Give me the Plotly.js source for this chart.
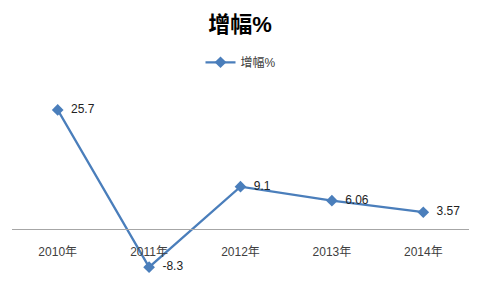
<!DOCTYPE html>
<html>
<head>
<meta charset="utf-8">
<script src="https://cdn.plot.ly/plotly-3.0.1.min.js"></script>
<style>html,body{margin:0;padding:0;background:#fff;}#chart{width:480px;height:289px;}</style>
</head>
<body>
<div id="chart"></div>
<script>
const categories = ["2010年", "2011年", "2012年", "2013年", "2014年"];
const values = [25.7, -8.3, 9.1, 6.06, 3.57];
const labels = ["25.7", "-8.3", "9.1", "6.06", "3.57"];
const seriesName = "增幅%";

const font = '"Liberation Sans", "Noto Sans CJK SC", sans-serif';

const trace = {
  x: categories,
  y: values,
  type: 'scatter',
  mode: 'lines+markers+text',
  name: seriesName,
  text: labels,
  texttemplate: '\u00a0\u00a0%{text}',
  textposition: 'middle right',
  textfont: {family: font, size: 12, color: '#222'},
  line: {color: '#4A7EBB', width: 2.25},
  marker: {symbol: 'diamond', size: 9, color: '#4A7EBB'},
  cliponaxis: false
};

const layout = {
  width: 480, height: 289,
  margin: {l: 12, r: 11, t: 90, b: 14},
  paper_bgcolor: '#fff', plot_bgcolor: '#fff',
  font: {family: font, color: '#404040'},
  title: {text: '<b>增幅%</b>', font: {family: font, size: 22, color: '#000'},
          x: 0.5, xanchor: 'center', y: 0.915, yref: 'container', yanchor: 'middle'},
  showlegend: true,
  legend: {orientation: 'h', x: 0.5, xanchor: 'center', y: 1.15, yanchor: 'middle',
           font: {family: font, size: 12, color: '#404040'}},
  xaxis: {type: 'category', range: [-0.5, 4.5], anchor: 'free', position: 0.25,
          showline: true, linecolor: '#A6A6A6', linewidth: 1,
          showgrid: false, zeroline: false, ticks: '',
          ticklabelstandoff: 12,
          tickfont: {family: font, size: 12, color: '#404040'}},
  yaxis: {range: [-10, 30], visible: false, showgrid: false, zeroline: false}
};

Plotly.newPlot('chart', [trace], layout, {displayModeBar: false, staticPlot: true});
</script>
</body>
</html>
